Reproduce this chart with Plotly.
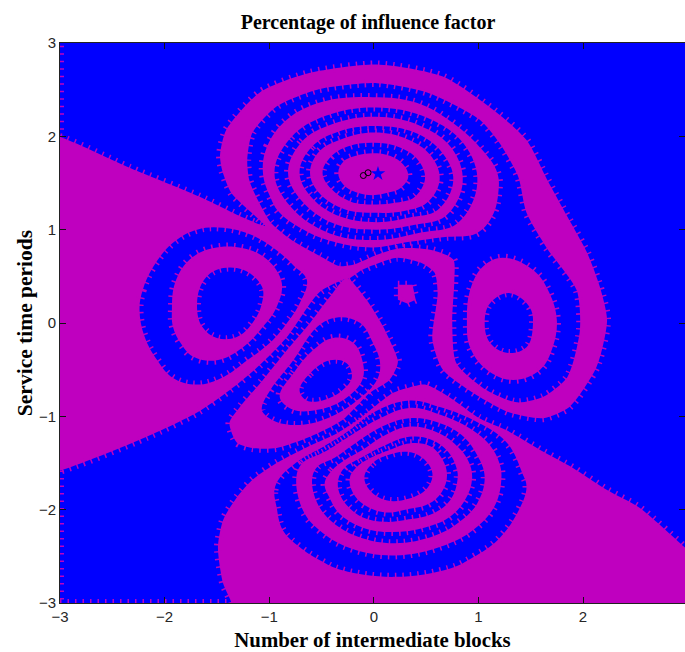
import plotly.graph_objects as go

MAGENTA = "#BF00BF"
BLUE = "#0000FF"

x_ticks = [-3, -2, -1, 0, 1, 2]
y_ticks = [-3, -2, -1, 0, 1, 2, 3]

# Boundaries of the filled bands in axis units, outermost first.
wedge_and_band = [(-3.1,1.99),(-3.0,1.99),(-2.33,1.66),(-1.66,1.35),(-1.25,1.13),(-1.04,1.04),(-1.36,1.39),(-1.45,1.64),(-1.47,1.80),(-1.41,2.07),(-1.09,2.47),(-0.61,2.68),(0.03,2.77),(0.66,2.64),(1.18,2.25),(1.46,1.96),(1.66,1.53),(1.85,1.14),(2.04,0.75),(2.16,0.39),(2.23,0.03),(2.13,-0.47),(1.87,-0.90),(1.62,-1.02),(1.30,-0.96),(1.01,-0.79),(0.66,-0.50),(0.56,-0.18),(0.61,0.32),(0.58,0.54),(0.44,0.65),(0.22,0.70),(-0.11,0.57),(-0.23,0.48),(-0.30,0.46),(-0.52,0.33),(-0.83,-0.15),(-1.09,-0.45),(-1.38,-0.72),(-1.69,-0.96),(-2.17,-1.22),(-3.0,-1.58),(-3.1,-1.58)]
inner_channel = [(-1.21,1.75),(-1.16,2.04),(-0.93,2.32),(-0.54,2.50),(0.03,2.57),(0.51,2.47),(1.01,2.18),(1.20,1.93),(1.38,1.57),(1.46,1.18),(1.65,0.81),(1.94,0.35),(1.97,-0.08),(1.85,-0.58),(1.62,-0.79),(1.37,-0.85),(1.08,-0.72),(0.79,-0.43),(0.75,0.00),(0.77,0.46),(0.76,0.68),(0.56,0.78),(0.25,0.80),(0.03,0.73),(-0.18,0.63),(-0.33,0.61),(-0.52,0.72),(-0.76,0.87),(-0.98,1.07),(-1.11,1.32),(-1.19,1.53)]
top_m7 = [(-1.06,1.61),(-1.02,1.89),(-0.83,2.18),(-0.49,2.37),(-0.01,2.42),(0.41,2.36),(0.76,2.14),(1.04,1.85),(1.18,1.61),(1.19,1.39),(1.13,1.14),(0.98,0.96),(0.66,0.92),(0.34,0.87),(-0.01,0.81),(-0.35,0.86),(-0.64,0.98),(-0.90,1.18),(-0.99,1.35)]
top_b6 = [(-0.95,1.61),(-0.79,1.99),(-0.46,2.22),(0.02,2.31),(0.51,2.20),(0.86,1.92),(0.99,1.50),(0.80,1.07),(0.45,0.97),(0.02,0.89),(-0.42,0.96),(-0.79,1.24)]
top_m5 = [(-0.82,1.61),(-0.69,1.94),(-0.40,2.13),(0.02,2.21),(0.43,2.12),(0.74,1.88),(0.85,1.51),(0.69,1.15),(0.38,1.05),(0.02,1.00),(-0.37,1.06),(-0.69,1.31)]
top_b4 = [(-0.71,1.61),(-0.59,1.89),(-0.34,2.05),(0.03,2.11),(0.39,2.04),(0.65,1.83),(0.76,1.53),(0.61,1.21),(0.34,1.13),(0.03,1.08),(-0.32,1.14),(-0.59,1.34)]
top_m3 = [(-0.61,1.61),(-0.52,1.84),(-0.31,1.97),(0.01,2.04),(0.32,1.97),(0.54,1.80),(0.63,1.54),(0.51,1.29),(0.29,1.20),(0.01,1.18),(-0.28,1.22),(-0.52,1.39)]
top_b2 = [(-0.49,1.61),(-0.41,1.78),(-0.25,1.89),(0.00,1.93),(0.25,1.88),(0.42,1.75),(0.49,1.55),(0.39,1.35),(0.22,1.29),(0.00,1.27),(-0.22,1.30),(-0.41,1.44)]
top_m1 = [(-0.34,1.61),(-0.29,1.73),(-0.18,1.79),(-0.01,1.82),(0.16,1.79),(0.28,1.70),(0.33,1.57),(0.26,1.45),(0.15,1.40),(-0.01,1.37),(-0.17,1.40),(-0.29,1.48)]

left_b_outer = [(-2.24,0.14),(-2.21,0.35),(-2.11,0.60),(-1.92,0.86),(-1.69,1.00),(-1.44,1.02),(-1.16,0.94),(-0.93,0.78),(-0.77,0.62),(-0.64,0.46),(-0.71,0.21),(-0.83,0.00),(-0.99,-0.21),(-1.21,-0.40),(-1.44,-0.58),(-1.69,-0.66),(-1.92,-0.59),(-2.07,-0.40),(-2.19,-0.15)]
left_m = [(-1.93,0.14),(-1.90,0.43),(-1.76,0.68),(-1.54,0.80),(-1.25,0.80),(-1.02,0.68),(-0.88,0.43),(-0.93,0.17),(-1.06,-0.04),(-1.25,-0.26),(-1.50,-0.40),(-1.73,-0.36),(-1.85,-0.21),(-1.92,-0.04)]
left_b_inner = [(-1.69,0.17),(-1.64,0.43),(-1.50,0.57),(-1.25,0.57),(-1.07,0.39),(-1.07,0.21),(-1.16,0.00),(-1.31,-0.15),(-1.50,-0.16),(-1.64,-0.04)]

triangle = [(-0.26,0.48),(-0.07,0.25),(0.09,-0.04),(0.23,-0.40),(0.22,-0.47),(0.15,-0.61),(-0.04,-0.75),(-0.30,-1.04),(-0.61,-1.22),(-0.93,-1.34),(-1.16,-1.34),(-1.31,-1.28),(-1.38,-1.07),(-1.28,-0.90),(-1.06,-0.61),(-0.83,-0.29),(-0.61,0.00),(-0.42,0.28)]
tri_b_outer = [(-1.07,-0.90),(-0.99,-0.72),(-0.77,-0.40),(-0.54,-0.04),(-0.35,0.06),(-0.13,0.00),(-0.01,-0.21),(0.06,-0.43),(0.03,-0.61),(-0.16,-0.83),(-0.42,-1.01),(-0.68,-1.09),(-0.93,-1.06),(-1.06,-0.96)]
tri_m = [(-0.90,-0.79),(-0.77,-0.54),(-0.58,-0.29),(-0.39,-0.16),(-0.20,-0.21),(-0.11,-0.40),(-0.11,-0.61),(-0.30,-0.83),(-0.54,-0.93),(-0.77,-0.93)]
tri_b_inner = [(-0.71,-0.72),(-0.61,-0.54),(-0.42,-0.40),(-0.26,-0.43),(-0.21,-0.58),(-0.30,-0.72),(-0.49,-0.83),(-0.64,-0.83)]

square = [(0.23,0.41),(0.37,0.41),(0.40,0.25),(0.32,0.21),(0.23,0.25)]

right_m = [(1.23,0.70),(1.52,0.57),(1.68,0.32),(1.75,0.03),(1.71,-0.26),(1.59,-0.50),(1.33,-0.61),(1.08,-0.50),(0.92,-0.26),(0.89,0.03),(0.92,0.35),(1.04,0.60)]
right_b = [(1.30,0.32),(1.49,0.17),(1.52,-0.04),(1.46,-0.26),(1.27,-0.32),(1.11,-0.21),(1.06,0.00),(1.11,0.21)]

bottom_region = [(-1.36,-3.1),(-1.36,-3.00),(-1.44,-2.79),(-1.49,-2.40),(-1.44,-2.11),(-1.31,-1.87),(-1.16,-1.68),(-0.93,-1.50),(-0.64,-1.33),(-0.35,-1.18),(-0.13,-1.02),(0.18,-0.75),(0.34,-0.69),(0.49,-0.66),(0.73,-0.80),(1.01,-1.02),(1.27,-1.15),(1.59,-1.36),(1.90,-1.55),(2.23,-1.79),(2.54,-1.98),(3.00,-2.43),(3.1,-2.52),(3.1,-3.1)]
bot_b1 = [(-0.93,-1.97),(-0.95,-1.79),(-0.90,-1.66),(-0.71,-1.47),(-0.49,-1.33),(-0.26,-1.17),(0.01,-0.95),(0.34,-0.83),(0.63,-0.90),(0.95,-1.04),(1.27,-1.28),(1.42,-1.61),(1.46,-1.76),(1.37,-2.04),(1.18,-2.33),(0.95,-2.51),(0.73,-2.63),(0.20,-2.72),(-0.30,-2.65),(-0.52,-2.54),(-0.71,-2.40),(-0.87,-2.22)]
bot_m2 = [(-0.74,-1.65),(-0.68,-1.50),(-0.47,-1.38),(-0.23,-1.21),(0.06,-1.02),(0.34,-0.91),(0.63,-0.98),(0.92,-1.13),(1.11,-1.31),(1.20,-1.50),(1.22,-1.66),(1.16,-1.95),(0.97,-2.20),(0.68,-2.38),(0.20,-2.49),(-0.23,-2.41),(-0.52,-2.22),(-0.68,-2.00)]
bot_b3 = [(-0.59,-1.68),(-0.54,-1.54),(-0.37,-1.44),(-0.18,-1.29),(0.08,-1.11),(0.34,-1.02),(0.60,-1.06),(0.84,-1.20),(0.99,-1.42),(1.06,-1.65),(0.99,-1.93),(0.82,-2.13),(0.58,-2.28),(0.20,-2.36),(-0.15,-2.29),(-0.40,-2.13),(-0.54,-1.93)]
bot_m4 = [(-0.47,-1.72),(-0.40,-1.58),(-0.28,-1.47),(-0.11,-1.36),(0.11,-1.20),(0.34,-1.11),(0.58,-1.16),(0.77,-1.29),(0.90,-1.47),(0.94,-1.66),(0.87,-1.90),(0.71,-2.09),(0.49,-2.19),(0.17,-2.24),(-0.11,-2.19),(-0.33,-2.04),(-0.42,-1.88)]
bot_b5 = [(-0.34,-1.68),(-0.28,-1.55),(-0.13,-1.45),(0.11,-1.31),(0.34,-1.22),(0.55,-1.25),(0.71,-1.38),(0.79,-1.55),(0.80,-1.68),(0.73,-1.90),(0.55,-2.05),(0.30,-2.11),(0.11,-2.13),(-0.11,-2.08),(-0.26,-1.95),(-0.33,-1.82)]
bot_m6 = [(-0.23,-1.66),(-0.17,-1.55),(-0.04,-1.45),(0.15,-1.36),(0.34,-1.29),(0.54,-1.32),(0.65,-1.45),(0.70,-1.63),(0.65,-1.81),(0.52,-1.94),(0.30,-2.00),(0.11,-2.03),(-0.09,-1.95),(-0.20,-1.82)]
bot_b7 = [(-0.09,-1.65),(-0.01,-1.50),(0.12,-1.42),(0.32,-1.38),(0.47,-1.45),(0.56,-1.61),(0.51,-1.77),(0.34,-1.88),(0.12,-1.90),(-0.04,-1.79)]

edge_left_top = [(-3.0,1.99),(-3.0,3.0)]
edge_left_bottom = [(-3.0,-1.58),(-3.0,-3.0)]
edge_bottom = [(-3.0,-3.0),(-1.36,-3.0)]

peak_star_x = [0.04]
peak_star_y = [1.60]
peak_circle_x = [-0.10, -0.055]
peak_circle_y = [1.58, 1.61]

REGIONS = [
    (wedge_and_band, MAGENTA), (inner_channel, BLUE),
    (top_m7, MAGENTA), (top_b6, BLUE), (top_m5, MAGENTA), (top_b4, BLUE),
    (top_m3, MAGENTA), (top_b2, BLUE), (top_m1, MAGENTA),
    (left_b_outer, BLUE), (left_m, MAGENTA), (left_b_inner, BLUE),
    (triangle, MAGENTA), (tri_b_outer, BLUE), (tri_m, MAGENTA), (tri_b_inner, BLUE),
    (square, MAGENTA), (right_m, MAGENTA), (right_b, BLUE),
    (bottom_region, MAGENTA), (bot_b1, BLUE), (bot_m2, MAGENTA), (bot_b3, BLUE),
    (bot_m4, MAGENTA), (bot_b5, BLUE), (bot_m6, MAGENTA), (bot_b7, BLUE),
]

def line_style(pts):
    if pts is square:
        return dict(shape="linear")
    if pts is wedge_and_band or pts is bottom_region or pts is inner_channel or pts is triangle:
        return dict(shape="spline", smoothing=0.7)
    return dict(shape="spline", smoothing=1.1)

fig = go.Figure()
def xy(points, close=True):
    pts = list(points) + ([points[0]] if close else [])
    return [p[0] for p in pts], [p[1] for p in pts]

for pts, col in REGIONS:
    x, y = xy(pts)
    fig.add_trace(go.Scatter(x=x, y=y, mode="lines", fill="toself", fillcolor=col,
                             line=dict(width=0, **line_style(pts)),
                             hoverinfo="skip", showlegend=False))
# comb of short strokes along each boundary
for pts, col in REGIONS:
    x, y = xy(pts)
    fig.add_trace(go.Scatter(x=x, y=y, mode="lines",
                             line=dict(width=8, color=MAGENTA, dash="1.5px,6px", **line_style(pts)),
                             hoverinfo="skip", showlegend=False))
for pts in (edge_left_top, edge_left_bottom, edge_bottom):
    x, y = xy(pts, close=False)
    fig.add_trace(go.Scatter(x=x, y=y, mode="lines",
                             line=dict(width=8, color=MAGENTA, dash="1.5px,6px"),
                             hoverinfo="skip", showlegend=False))

fig.add_trace(go.Scatter(x=peak_star_x, y=peak_star_y, mode="markers",
                         marker=dict(symbol="star", size=11, color=BLUE), hoverinfo="skip", showlegend=False))
fig.add_trace(go.Scatter(x=peak_circle_x, y=peak_circle_y, mode="markers",
                         marker=dict(symbol="circle-open", size=6, color="black", line=dict(width=1)),
                         hoverinfo="skip", showlegend=False))

axis_font = dict(family="Liberation Sans, Arial, sans-serif", size=15, color="#262626")

fig.update_layout(
    width=685, height=652, autosize=False,
    margin=dict(l=60, r=0, t=43, b=49),
    plot_bgcolor=BLUE, paper_bgcolor="white",
    title=dict(text="<b>Percentage of influence factor</b>", x=368/685, xanchor="center",
               y=1-22/652, yanchor="middle", font=dict(family="Liberation Serif, serif", size=20, color="black")),
    xaxis=dict(range=[-3, 2.975], tickvals=x_ticks, ticks="inside", ticklen=6, tickcolor="#111", mirror="ticks",
               showline=True, linecolor="#222", linewidth=1, showgrid=False, zeroline=False, tickfont=axis_font,
               title=dict(text="<b>Number of intermediate blocks</b>",
                          font=dict(family="Liberation Serif, serif", size=20.8, color="black"), standoff=8)),
    yaxis=dict(range=[-3, 3], tickvals=y_ticks, ticks="inside", ticklen=6, tickcolor="#111", mirror="ticks",
               showline=True, linecolor="#222", linewidth=1, showgrid=False, zeroline=False, tickfont=axis_font,
               title=dict(text="<b>Service time periods</b>",
                          font=dict(family="Liberation Serif, serif", size=21.5, color="black"), standoff=0)),
)
fig.write_html("out.html", config=dict(displayModeBar=False),
               post_script="document.body.style.margin='0';document.documentElement.style.overflow='hidden';document.body.style.overflow='hidden';")
